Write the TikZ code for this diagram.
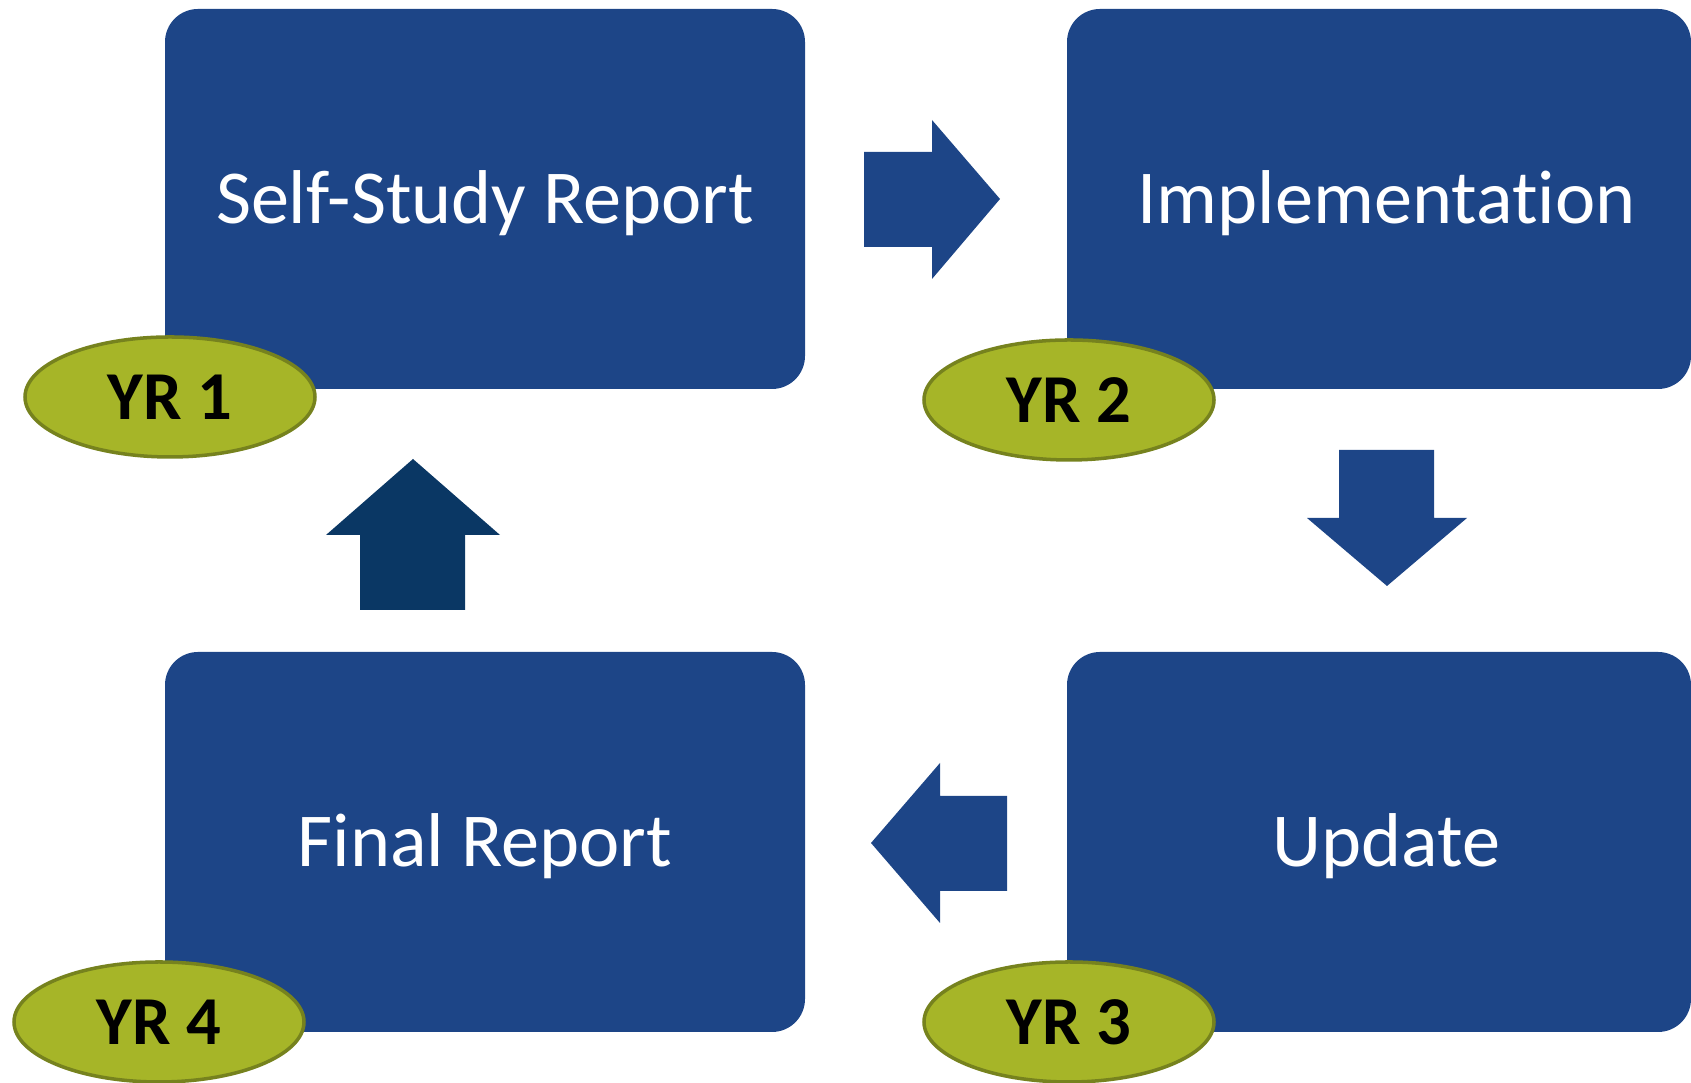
\documentclass[tikz,border=0pt]{standalone}
\usepackage{fontspec}
\setmainfont{Carlito}[Ligatures=NoCommon]
\usetikzlibrary{shapes.geometric}
\definecolor{boxblue}{RGB}{29,69,135}
\definecolor{darknavy}{RGB}{10,55,100}
\definecolor{yrgreen}{RGB}{166,181,40}
\definecolor{yrline}{RGB}{118,130,30}
\tikzset{
  stagebox/.style={rectangle,rounded corners=0.33cm,fill=boxblue,text=white,
    minimum width=6.4cm,minimum height=3.8cm,text height=14pt,text depth=0pt,
    font=\fontsize{21.7}{26}\selectfont},
  yrtag/.style={ellipse,fill=yrgreen,draw=yrline,line width=1pt,inner sep=0pt,
    minimum width=2.9cm,minimum height=1.2cm,
    font=\fontsize{19.5}{22}\selectfont\bfseries}
}

\begin{document}
\begin{tikzpicture}
  \useasboundingbox (0,0) rectangle (16.91,10.83);
  % the four stages
  \node[stagebox](self)at(4.85,8.84){Self-Study Report};
  \node[stagebox,minimum width=6.24cm](impl)at(13.79,8.84){\hspace*{0.15cm}Implementation};
  \node[stagebox,minimum width=6.24cm](upd)at(13.79,2.41){\hspace*{0.15cm}Update};
  \node[stagebox](final)at(4.85,2.41){Final Report};
  % block arrows
  \fill[boxblue](8.64,9.31)--(9.32,9.31)--(9.32,9.63)--(10.00,8.84)--(9.32,8.04)--(9.32,8.36)--(8.64,8.36)--cycle;
  \fill[boxblue](13.39,6.33)--(14.34,6.33)--(14.34,5.65)--(14.67,5.65)--(13.87,4.97)--(13.07,5.65)--(13.39,5.65)--cycle;
  \fill[boxblue](10.07,2.87)--(9.40,2.87)--(9.40,3.20)--(8.71,2.40)--(9.40,1.60)--(9.40,1.92)--(10.07,1.92)--cycle;
  \fill[darknavy](3.60,4.73)--(3.60,5.48)--(3.26,5.48)--(4.13,6.24)--(5.00,5.48)--(4.65,5.48)--(4.65,4.73)--cycle;
  % year tags
  \node[yrtag](yr1)at(1.70,6.86){YR 1};
  \node[yrtag](yr2)at(10.69,6.83){YR 2};
  \node[yrtag](yr3)at(10.69,0.61){YR 3};
  \node[yrtag](yr4)at(1.59,0.61){YR 4};
\end{tikzpicture}
\end{document}
